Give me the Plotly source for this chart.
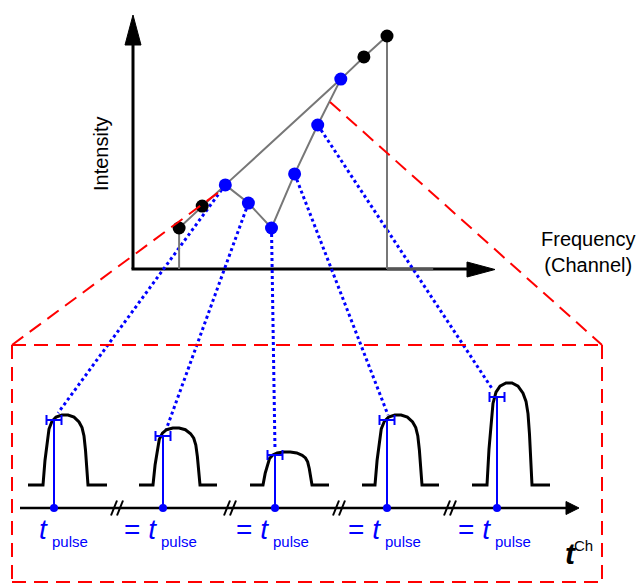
import plotly.graph_objects as go

# ---------------- data ----------------
# Top chart: intensity per frequency channel
CHANNELS = [1, 2, 3, 4, 5, 6, 7, 8, 9, 10]
INTENSITY = [1.76, 2.70, 3.61, 2.83, 1.76, 4.08, 6.18, 8.15, 9.10, 10.0]
BLUE_CH = [3, 4, 5, 6, 7, 8]          # channels shown in the pulse panel (blue)
BLACK_CH = [1, 2, 9, 10]
ENVELOPE_CH = [1, 2, 3, 8, 9, 10]     # straight envelope line

# Bottom panel: pulses (diagram units = pixels)
PULSE_DOT_X = [54, 163, 275, 387, 497]
PULSE_AMP = [70, 57, 33, 70, 102]
PULSE_RISE = [43, 153, 263, 375, 487]
PULSE_FALL = [88, 200, 312, 422, 532]
PULSE_LEFT = [28, 139, 250, 362, 472]
PULSE_RIGHT = [107, 217, 329, 439, 550]
MARK_Y = [420, 436, 455, 420, 397]
LINK_END_X = [58, 166, 275, 388, 493]
LINK_END_Y = [413, 430, 450, 415, 390]
BREAK_X = [117, 230, 339, 450]
LABEL_PREFIX = ["", "= ", "= ", "= ", "= "]

# normalized pulse template (fraction of rise->fall width, fraction of amplitude)
TEMPLATE_FX = [0, 0.044, 0.089, 0.133, 0.2, 0.289, 0.422, 0.556, 0.689, 0.8, 0.867, 0.911, 0.944, 0.967, 1.0]
TEMPLATE_FY = [0, 0.35, 0.62, 0.8, 0.91, 0.97, 1.0, 1.0, 0.97, 0.9, 0.82, 0.7, 0.5, 0.25, 0]

# ---------------- layout constants ----------------
W, H = 640, 583
CH0_PX, CH_STEP = 156.0, 23.1      # channel -> pixel
I0_PX, I_STEP = 269.0, 23.3        # intensity -> pixel
BASE_Y = 485
TAXIS_Y = 508

BLUE = "#0000ff"
RED = "#ff0000"
GRAY = "#777777"
BLACK = "#000000"
FONT = "Liberation Sans, Arial, sans-serif"


def ch2px(c):
    return CH0_PX + CH_STEP * c


def i2px(v):
    return I0_PX - I_STEP * v


inten = dict(zip(CHANNELS, INTENSITY))

fig = go.Figure()


def line(x, y, color, width, dash=None, ax="main", fill=None):
    kw = {}
    if ax == "top":
        kw = dict(xaxis="x2", yaxis="y2")
    fig.add_trace(go.Scatter(
        x=x, y=y, mode="lines",
        line=dict(color=color, width=width, dash=dash),
        fill=fill, fillcolor=color if fill else None,
        hoverinfo="skip", showlegend=False, **kw))


# ---- top chart axes (pixel layer) ----
line([133, 133], [269, 40], BLACK, 3)
line([125, 133, 141, 125], [45, 15, 45, 45], BLACK, 1, fill="toself")
line([131.5, 470], [269, 269], BLACK, 3)
line([467, 495, 467, 467], [262, 269.5, 277, 262], BLACK, 1, fill="toself")

# ---- blue dotted links (pixel layer) ----
for k, ch in enumerate(BLUE_CH[:5]):
    line([ch2px(ch), LINK_END_X[k]], [i2px(inten[ch]), LINK_END_Y[k]], BLUE, 3, dash="dot")

# ---- time axis ----
line([20, 568], [TAXIS_Y, TAXIS_Y], BLACK, 2.5)
line([566, 579, 566, 566], [501.5, TAXIS_Y, 514.5, 501.5], BLACK, 1, fill="toself")
for bx in BREAK_X:
    for off in (-3, 3):
        line([bx + off - 3, bx + off + 3], [515.5, 500.5], BLACK, 2)

# ---- pulses ----
for k in range(len(PULSE_DOT_X)):
    wdt = PULSE_FALL[k] - PULSE_RISE[k]
    xs = [PULSE_LEFT[k]] + [PULSE_RISE[k] + f * wdt for f in TEMPLATE_FX] + [PULSE_RIGHT[k]]
    ys = [BASE_Y] + [BASE_Y - f * PULSE_AMP[k] for f in TEMPLATE_FY] + [BASE_Y]
    line(xs, ys, BLACK, 3)
    d = PULSE_DOT_X[k]
    my = MARK_Y[k]
    line([d, d], [TAXIS_Y, my], BLUE, 2)
    line([d - 7.5, d + 7.5], [my, my], BLUE, 2)
    line([d - 7.5, d - 7.5], [my - 5, my + 5], BLUE, 2)
    line([d + 7.5, d + 7.5], [my - 5, my + 5], BLUE, 2)

fig.add_trace(go.Scatter(x=PULSE_DOT_X, y=[TAXIS_Y] * len(PULSE_DOT_X), mode="markers",
                         marker=dict(color=BLUE, size=8), hoverinfo="skip", showlegend=False))

# ---- top chart data (data layer x2/y2) ----
line([CHANNELS[0], CHANNELS[0]], [0, inten[CHANNELS[0]]], GRAY, 2, ax="top")
line([CHANNELS[-1], CHANNELS[-1]], [0, inten[CHANNELS[-1]]], GRAY, 2, ax="top")
line([CHANNELS[-1], 12], [0, 0], "#555555", 2.5, ax="top")
line(ENVELOPE_CH, [inten[c] for c in ENVELOPE_CH], GRAY, 2, ax="top")
line(BLUE_CH, [inten[c] for c in BLUE_CH], GRAY, 2, ax="top")
fig.add_trace(go.Scatter(x=BLACK_CH, y=[inten[c] for c in BLACK_CH], mode="markers",
                         marker=dict(color=BLACK, size=13), xaxis="x2", yaxis="y2",
                         hoverinfo="skip", showlegend=False))
fig.add_trace(go.Scatter(x=BLUE_CH, y=[inten[c] for c in BLUE_CH], mode="markers",
                         marker=dict(color=BLUE, size=13), xaxis="x2", yaxis="y2",
                         hoverinfo="skip", showlegend=False))

# ---- red zoom box (shapes above) ----
dash = "14px,8px"
shapes = [
    dict(type="line", x0=12, y0=345, x1=219, y1=192),
    dict(type="line", x0=330, y0=102, x1=602, y1=345),
    dict(type="line", x0=12, y0=345, x1=602, y1=345),
    dict(type="line", x0=12, y0=345, x1=12, y1=583),
    dict(type="line", x0=602, y0=345, x1=602, y1=583),
    dict(type="line", x0=12, y0=582, x1=602, y1=582),
]
for s in shapes:
    s.update(xref="x", yref="y", layer="above", line=dict(color=RED, width=2, dash=dash))

# ---- text ----
ann = []
ann.append(dict(x=101, y=154, text="Intensity", textangle=-90, showarrow=False,
                font=dict(family=FONT, size=20, color=BLACK)))
ann.append(dict(x=588, y=252, text="Frequency<br>(Channel)", showarrow=False,
                font=dict(family=FONT, size=20, color=BLACK), align="center"))
for k, d in enumerate(PULSE_DOT_X):
    ann.append(dict(x=d - 4, y=529, xanchor="right", yanchor="middle",
                    text=LABEL_PREFIX[k] + "<i>t</i>", showarrow=False,
                    font=dict(family=FONT, size=28, color=BLUE)))
    ann.append(dict(x=d - 4, y=541, xanchor="left", yanchor="middle",
                    text="pulse", showarrow=False,
                    font=dict(family=FONT, size=15, color=BLUE)))
ann.append(dict(x=579, y=553, xanchor="right", yanchor="middle", text="<b><i>t</i></b>",
                showarrow=False, font=dict(family=FONT, size=30, color=BLACK)))
ann.append(dict(x=572, y=545, xanchor="left", yanchor="middle", text="Ch",
                showarrow=False, font=dict(family=FONT, size=15, color=BLACK)))
for a in ann:
    a.update(xref="x", yref="y")

fig.update_layout(
    width=W, height=H, margin=dict(l=0, r=0, t=0, b=0),
    paper_bgcolor="white", plot_bgcolor="white", showlegend=False,
    xaxis=dict(range=[0, W], visible=False, fixedrange=True),
    yaxis=dict(range=[H, 0], visible=False, fixedrange=True),
    xaxis2=dict(range=[(0 - CH0_PX) / CH_STEP, (W - CH0_PX) / CH_STEP], overlaying="x",
                visible=False, fixedrange=True),
    yaxis2=dict(range=[(I0_PX - H) / I_STEP, I0_PX / I_STEP], overlaying="y",
                visible=False, fixedrange=True),
    shapes=shapes, annotations=ann,
)

fig.write_html("out.html")
